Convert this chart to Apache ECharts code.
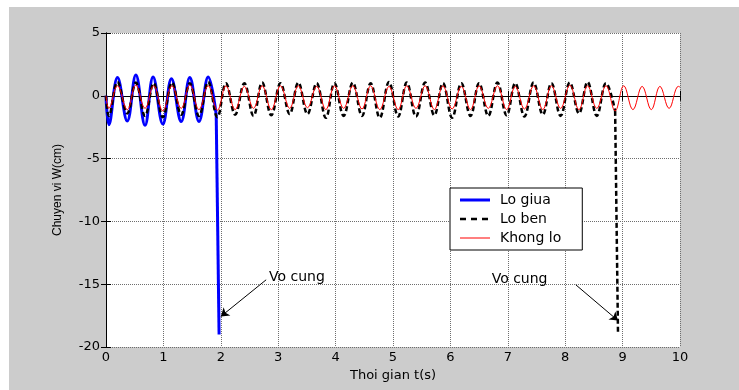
<!DOCTYPE html>
<html>
<head>
<meta charset="utf-8">
<script src="https://cdn.jsdelivr.net/npm/echarts@6/dist/echarts.min.js"></script>
<style>
html,body{margin:0;padding:0;background:#fff;}
#wrap{position:relative;width:739px;height:390px;background:#fff;overflow:hidden;}
#gray{position:absolute;left:9px;top:7px;right:0;bottom:0;background:#cccccc;}
#c{position:absolute;left:0;top:0;width:739px;height:390px;}
</style>
</head>
<body>
<div id="wrap"><div id="gray"></div><div id="c"></div></div>
<script>
// ---- data ----
const xTicks = [0,1,2,3,4,5,6,7,8,9,10];
const yTicks = [-20,-15,-10,-5,0,5];

const loGiuaT = [0, 0.05, 0.20, 0.37, 0.52, 0.68, 0.82, 0.99, 1.14, 1.31, 1.46, 1.62, 1.78, 1.92, 1.97];
const loGiuaV = [0, -2.3, 1.45, -2.0, 1.65, -2.35, 1.5, -2.25, 1.35, -2.05, 1.45, -2.05, 1.5, -1.5, -19.0];

const loBenT = [0, 0.05, 0.20, 0.37, 0.52, 0.68, 0.83, 0.99, 1.15, 1.31, 1.46, 1.62, 1.78, 1.94, 2.09, 2.25, 2.41, 2.57, 2.72, 2.88, 3.04, 3.20, 3.35, 3.51, 3.67, 3.83, 3.98, 4.14, 4.30, 4.46, 4.61, 4.77, 4.93, 5.09, 5.24, 5.40, 5.56, 5.72, 5.87, 6.03, 6.19, 6.35, 6.50, 6.66, 6.82, 6.98, 7.13, 7.29, 7.45, 7.61, 7.76, 7.92, 8.08, 8.24, 8.39, 8.55, 8.71, 8.87, 8.92];
const loBenV = [0, -1.6, 1.1, -1.4, 1.05, -1.6, 1.0, -1.7, 1.05, -1.5, 1.0, -1.6, 1.1, -1.7, 1.0, -1.5, 1.0, -1.6, 1.05, -1.55, 1.0, -1.45, 1.05, -1.45, 1.0, -1.75, 1.0, -1.6, 1.05, -1.6, 1.0, -1.75, 1.1, -1.65, 1.05, -1.65, 1.05, -1.55, 1.0, -1.75, 1.0, -1.6, 1.0, -1.6, 1.05, -1.55, 1.0, -1.65, 1.05, -1.5, 1.0, -1.6, 1.05, -1.4, 1.1, -1.6, 1.0, -1.2, -19.0];

const khongLoT = [0, 0.05, 0.20, 0.37, 0.52, 0.68, 0.83, 0.99, 1.15, 1.31, 1.46, 1.62, 1.78, 1.94, 2.09, 2.25, 2.41, 2.57, 2.72, 2.88, 3.04, 3.20, 3.35, 3.51, 3.67, 3.83, 3.98, 4.14, 4.30, 4.46, 4.61, 4.77, 4.93, 5.09, 5.24, 5.40, 5.56, 5.72, 5.87, 6.03, 6.19, 6.35, 6.50, 6.66, 6.82, 6.98, 7.13, 7.29, 7.45, 7.61, 7.76, 7.92, 8.08, 8.24, 8.39, 8.55, 8.71, 8.87, 9.02, 9.18, 9.34, 9.50, 9.65, 9.81, 9.97, 10.0];
const khongLoV = [0, -1.0, 0.8, -1.1, 0.85, -1.0, 0.8, -1.2, 0.8, -1.0, 0.85, -1.1, 0.8, -1.15, 0.8, -1.1, 0.75, -1.0, 0.8, -1.1, 0.8, -1.0, 0.8, -0.95, 0.75, -1.1, 0.8, -1.0, 0.8, -1.05, 0.8, -1.1, 0.75, -1.1, 0.8, -1.0, 0.8, -1.1, 0.8, -1.05, 0.75, -1.1, 0.8, -1.0, 0.8, -1.1, 0.75, -1.05, 0.8, -1.1, 0.8, -1.0, 0.85, -1.1, 0.8, -1.0, 0.8, -1.2, 0.8, -1.1, 0.75, -1.1, 0.75, -1.0, 0.75, 0.7];

const seriesNames = ['Lo giua', 'Lo ben', 'Khong lo'];
const annoText = 'Vo cung';
const annoTextPos = [[2.83, -14.49], [6.71, -14.65]];
const arrows = [[[2.79, -14.65], [2.0, -17.57]], [[8.185, -15.05], [8.92, -17.9]]];

// ---- chart ----
const FONT = 'DejaVu Sans';
function pairs(T, V) { return T.map((t, i) => [t, V[i]]); }

function withDrop(name, T, V, ls, z) {
  const d = pairs(T, V);
  return [
    { type: 'line', name, data: d.slice(0, -1), smooth: 0.4, symbol: 'none', lineStyle: ls, itemStyle: { color: ls.color }, z, silent: true },
    { type: 'line', name, data: d.slice(-2), symbol: 'none', lineStyle: ls, itemStyle: { color: ls.color }, z, silent: true }
  ];
}

const blueLS = { color: '#0000ff', width: 3 };
const blackLS = { color: '#000000', width: 2.5, type: [5, 3] };
const redLS = { color: '#ff0000', width: 1 };

const series = [].concat(
  withDrop(seriesNames[0], loGiuaT, loGiuaV, blueLS, 2),
  withDrop(seriesNames[1], loBenT, loBenV, blackLS, 3),
  [{
    type: 'line', name: seriesNames[2], data: pairs(khongLoT, khongLoV), smooth: 0.4, symbol: 'none',
    lineStyle: redLS, itemStyle: { color: redLS.color }, z: 4, silent: true,
    markLine: {
      silent: true, animation: false,
      symbol: ['none', 'arrow'], symbolSize: 8,
      lineStyle: { color: '#000', width: 1, type: 'solid' },
      itemStyle: { color: '#000' },
      label: { show: false },
      data: arrows.map(a => [{ coord: a[0] }, { coord: a[1] }])
    },
    markPoint: {
      silent: true, animation: false,
      symbol: 'rect', symbolSize: 1,
      itemStyle: { color: 'rgba(0,0,0,0)' },
      label: { show: true, position: 'right', distance: 0, formatter: annoText, color: '#000', fontSize: 14, fontFamily: FONT },
      data: annoTextPos.map(p => ({ coord: p }))
    }
  }]
);

// legend sample icons (bounding box 30x10, degenerate edge keeps the box)
const icons = [
  'path://M0,0 L0,10 L0,6.5 L30,6.5 L30,3.5 L0,3.5 Z',
  'path://M0,0 L0,10 L0,6.2 L6,6.2 L6,3.8 L0,3.8 Z M11,3.8 L17,3.8 L17,6.2 L11,6.2 Z M22,3.8 L28,3.8 L28,6.2 L22,6.2 Z M30,0 L30,10 Z',
  'path://M0,0 L0,10 L0,5.6 L30,5.6 L30,4.4 L0,4.4 Z'
];

const axisLine = { show: true, lineStyle: { color: '#000', width: 1 } };
const tick = { show: true, inside: true, length: 5, lineStyle: { color: '#000' } };
const split = { show: true, lineStyle: { color: '#6e6e6e', width: 1, type: 'dotted' } };

const chart = echarts.init(document.getElementById('c'), null, { renderer: 'canvas' });
chart.setOption({
  animation: false,
  backgroundColor: 'transparent',
  textStyle: { fontFamily: FONT },
  grid: { left: 106, right: 59, top: 33, bottom: 43, show: true, backgroundColor: '#fff', borderWidth: 0 },
  legend: {
    data: seriesNames.map((n, i) => ({ name: n, icon: icons[i] })),
    orient: 'vertical', left: 450, top: 188,
    padding: [5, 21, 5, 10],
    itemWidth: 30, itemHeight: 10, itemGap: 5,
    backgroundColor: '#fff', borderColor: '#000', borderWidth: 1, borderRadius: 0,
    textStyle: { fontFamily: FONT, fontSize: 14, color: '#000', padding: [0, 0, 0, 5] },
    selectedMode: false
  },
  xAxis: [
    {
      type: 'value', min: xTicks[0], max: xTicks[xTicks.length - 1], interval: 1,
      name: 'Thoi gian t(s)', nameLocation: 'middle', nameGap: 18,
      nameTextStyle: { fontFamily: FONT, fontSize: 13, color: '#000' },
      axisLine, axisTick: tick, splitLine: split,
      axisLabel: { color: '#000', fontSize: 13, fontFamily: FONT, margin: 4 }
    },
    {
      type: 'value', position: 'top', min: xTicks[0], max: xTicks[xTicks.length - 1], interval: 1,
      axisLine, axisTick: tick, splitLine: { show: false }, axisLabel: { show: false }
    }
  ],
  yAxis: [
    {
      type: 'value', min: yTicks[0], max: yTicks[yTicks.length - 1], interval: 5,
      name: 'Chuyen vi W(cm)', nameLocation: 'middle', nameGap: 42,
      nameTextStyle: { fontFamily: 'Liberation Sans', fontSize: 12, color: '#000' },
      axisLine, axisTick: tick, splitLine: split,
      axisLabel: { color: '#000', fontSize: 13, fontFamily: FONT, margin: 6 }
    },
    {
      type: 'value', position: 'right', min: yTicks[0], max: yTicks[yTicks.length - 1], interval: 5,
      axisLine, axisTick: tick, splitLine: { show: false }, axisLabel: { show: false }
    }
  ],
  series
});
</script>
</body>
</html>
